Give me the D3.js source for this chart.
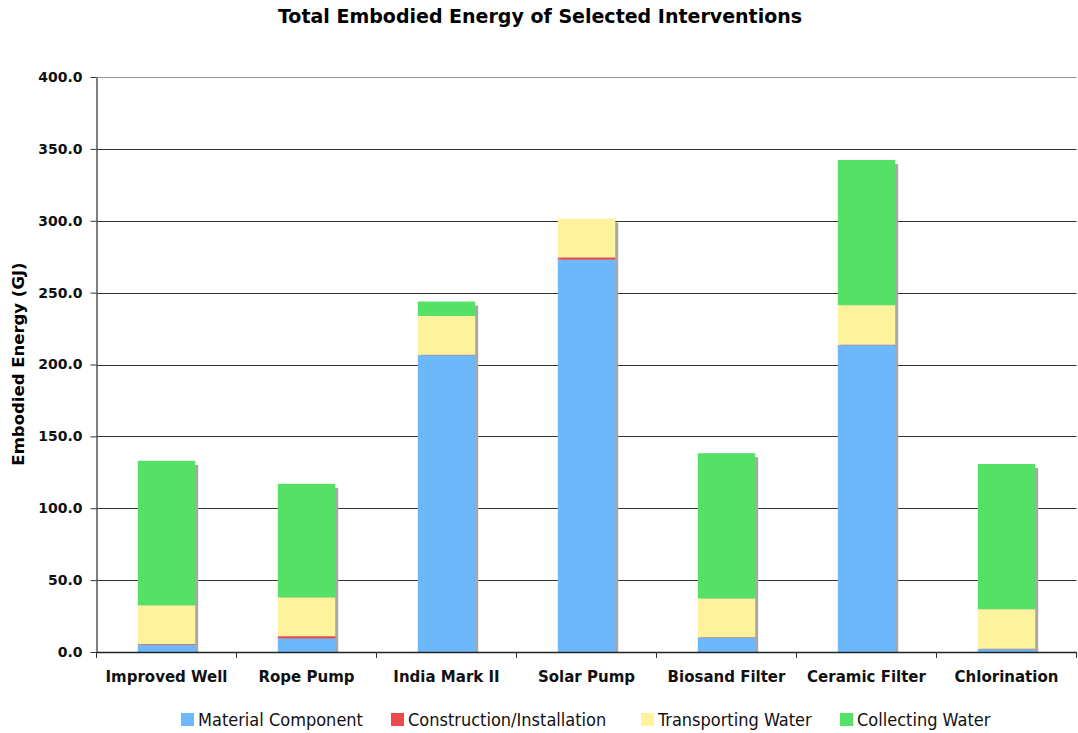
<!DOCTYPE html>
<html>
<head>
<meta charset="utf-8">
<script src="https://cdn.jsdelivr.net/npm/d3@7"></script>
<style>
  body { margin: 0; background: #fff; }
  svg { display: block; }
</style>
</head>
<body>
<svg id="chart" width="1078" height="733"></svg>
<script>
// chart data
const categories = ["Improved Well", "Rope Pump", "India Mark II", "Solar Pump",
                    "Biosand Filter", "Ceramic Filter", "Chlorination"];
const seriesNames = ["Material Component", "Construction/Installation",
                     "Transporting Water", "Collecting Water"];
const materialComponent = [5.0, 9.5, 206.5, 273.0, 10.0, 213.5, 2.0];
const construction      = [0.5, 1.5, 0.3, 1.5, 0.3, 0.3, 0.3];
const transportingWater = [27.0, 27.0, 27.0, 27.0, 27.0, 27.5, 27.5];
const collectingWater   = [100.5, 79.0, 10.0, 0.0, 101.0, 101.0, 101.0];
const yTicks = [0, 50, 100, 150, 200, 250, 300, 350, 400];

const colors = ["#6db8fa", "#ec4a4a", "#fef39c", "#55e165"];

let chart = d3.select("#chart");
let plotLeft = 96.5, plotRight = 1076.5, plotTop = 77, plotBottom = 652;

let x = d3.scaleBand()
    .domain(categories)
    .range([plotLeft, plotRight])
    .paddingInner(0.59)
    .paddingOuter(0.295);

let xOuter = d3.scaleBand()
    .domain(categories)
    .range([plotLeft, plotRight]);

let y = d3.scaleLinear()
    .domain([0, 400])
    .range([plotBottom, plotTop]);

// horizontal grid lines
chart.append("g")
    .selectAll("line")
    .data(yTicks.slice(1))
    .join("line")
      .attr("x1", plotLeft)
      .attr("x2", plotRight)
      .attr("y1", d => Math.round(y(d)) + 0.5)
      .attr("y2", d => Math.round(y(d)) + 0.5)
      .attr("stroke", d => d == 400 ? "#999" : "#333")
      .attr("stroke-width", 1);

// stack
let rows = categories.map((c, i) => ({
    cat: c,
    "Material Component": materialComponent[i],
    "Construction/Installation": construction[i],
    "Transporting Water": transportingWater[i],
    "Collecting Water": collectingWater[i]
}));
let stack = d3.stack().keys(seriesNames);
let layers = stack(rows);
let totals = rows.map(r => d3.sum(seriesNames, k => r[k]));

// shadows
chart.append("g")
    .selectAll("rect")
    .data(rows)
    .join("rect")
      .attr("x", d => x(d.cat) + 3)
      .attr("y", (d, i) => y(totals[i]) + 4)
      .attr("width", x.bandwidth())
      .attr("height", (d, i) => plotBottom - y(totals[i]) - 4)
      .attr("fill", "#a8a8a8");

// bars
chart.append("g")
    .selectAll("g")
    .data(layers)
    .join("g")
      .attr("fill", (d, i) => colors[i])
    .selectAll("rect")
    .data(d => d)
    .join("rect")
      .attr("x", d => x(d.data.cat))
      .attr("y", d => y(d[1]))
      .attr("width", x.bandwidth())
      .attr("height", d => y(d[0]) - y(d[1]));

// y axis
let yAxis = d3.axisLeft(y)
    .tickValues(yTicks)
    .tickFormat(d3.format(".1f"))
    .tickSize(6)
    .tickSizeOuter(0);
let yAxisGroup = chart.append("g")
    .attr("transform", "translate(" + plotLeft + ",0)")
    .call(yAxis);
yAxisGroup.select(".domain").attr("stroke", "#555").attr("stroke-width", 1.5);
yAxisGroup.selectAll(".tick line").attr("stroke", "#333");
yAxisGroup.selectAll("text")
    .attr("x", -14)
    .style("font-family", "DejaVu Sans")
    .style("font-size", "14px")
    .style("font-weight", "bold")
    .attr("fill", "#111");

// x axis
let xAxis = d3.axisBottom(xOuter).tickSize(0).tickSizeOuter(0);
let xAxisGroup = chart.append("g")
    .attr("transform", "translate(0," + plotBottom + ")")
    .call(xAxis);
xAxisGroup.select(".domain").attr("stroke", "#222").attr("stroke-width", 1.5);
xAxisGroup.selectAll("text")
    .attr("y", 19)
    .style("font-family", "DejaVu Sans")
    .style("font-size", "15px")
    .style("font-weight", "bold")
    .attr("fill", "#111");

// category boundary ticks
chart.append("g")
    .selectAll("line")
    .data(categories.concat(["end"]))
    .join("line")
      .attr("x1", (d, i) => plotLeft + i * xOuter.bandwidth())
      .attr("x2", (d, i) => plotLeft + i * xOuter.bandwidth())
      .attr("y1", plotBottom)
      .attr("y2", plotBottom + 6)
      .attr("stroke", "#333");

// title
chart.append("text")
    .text("Total Embodied Energy of Selected Interventions")
    .attr("x", 540)
    .attr("y", 23)
    .style("text-anchor", "middle")
    .style("font-family", "DejaVu Sans")
    .style("font-size", "19px")
    .style("font-weight", "bold")
    .style("fill", "#000");

// y label
chart.append("text")
    .text("Embodied Energy (GJ)")
    .attr("transform", "rotate(-90)")
    .attr("x", -364)
    .attr("y", 24)
    .style("text-anchor", "middle")
    .style("font-family", "DejaVu Sans")
    .style("font-size", "16.5px")
    .style("font-weight", "bold")
    .style("fill", "#000");

// legend
let legendX = [181, 391, 641, 840];
let legend = chart.append("g")
    .selectAll("g")
    .data(seriesNames)
    .join("g")
      .attr("transform", (d, i) => "translate(" + legendX[i] + ",713)");
legend.append("rect")
    .attr("width", 13)
    .attr("height", 13)
    .attr("fill", (d, i) => colors[i]);
legend.append("text")
    .text(d => d)
    .attr("x", 17)
    .attr("y", 12.5)
    .style("font-family", "DejaVu Sans Condensed")
    .style("font-size", "18px")
    .style("fill", "#111");
</script>
</body>
</html>
